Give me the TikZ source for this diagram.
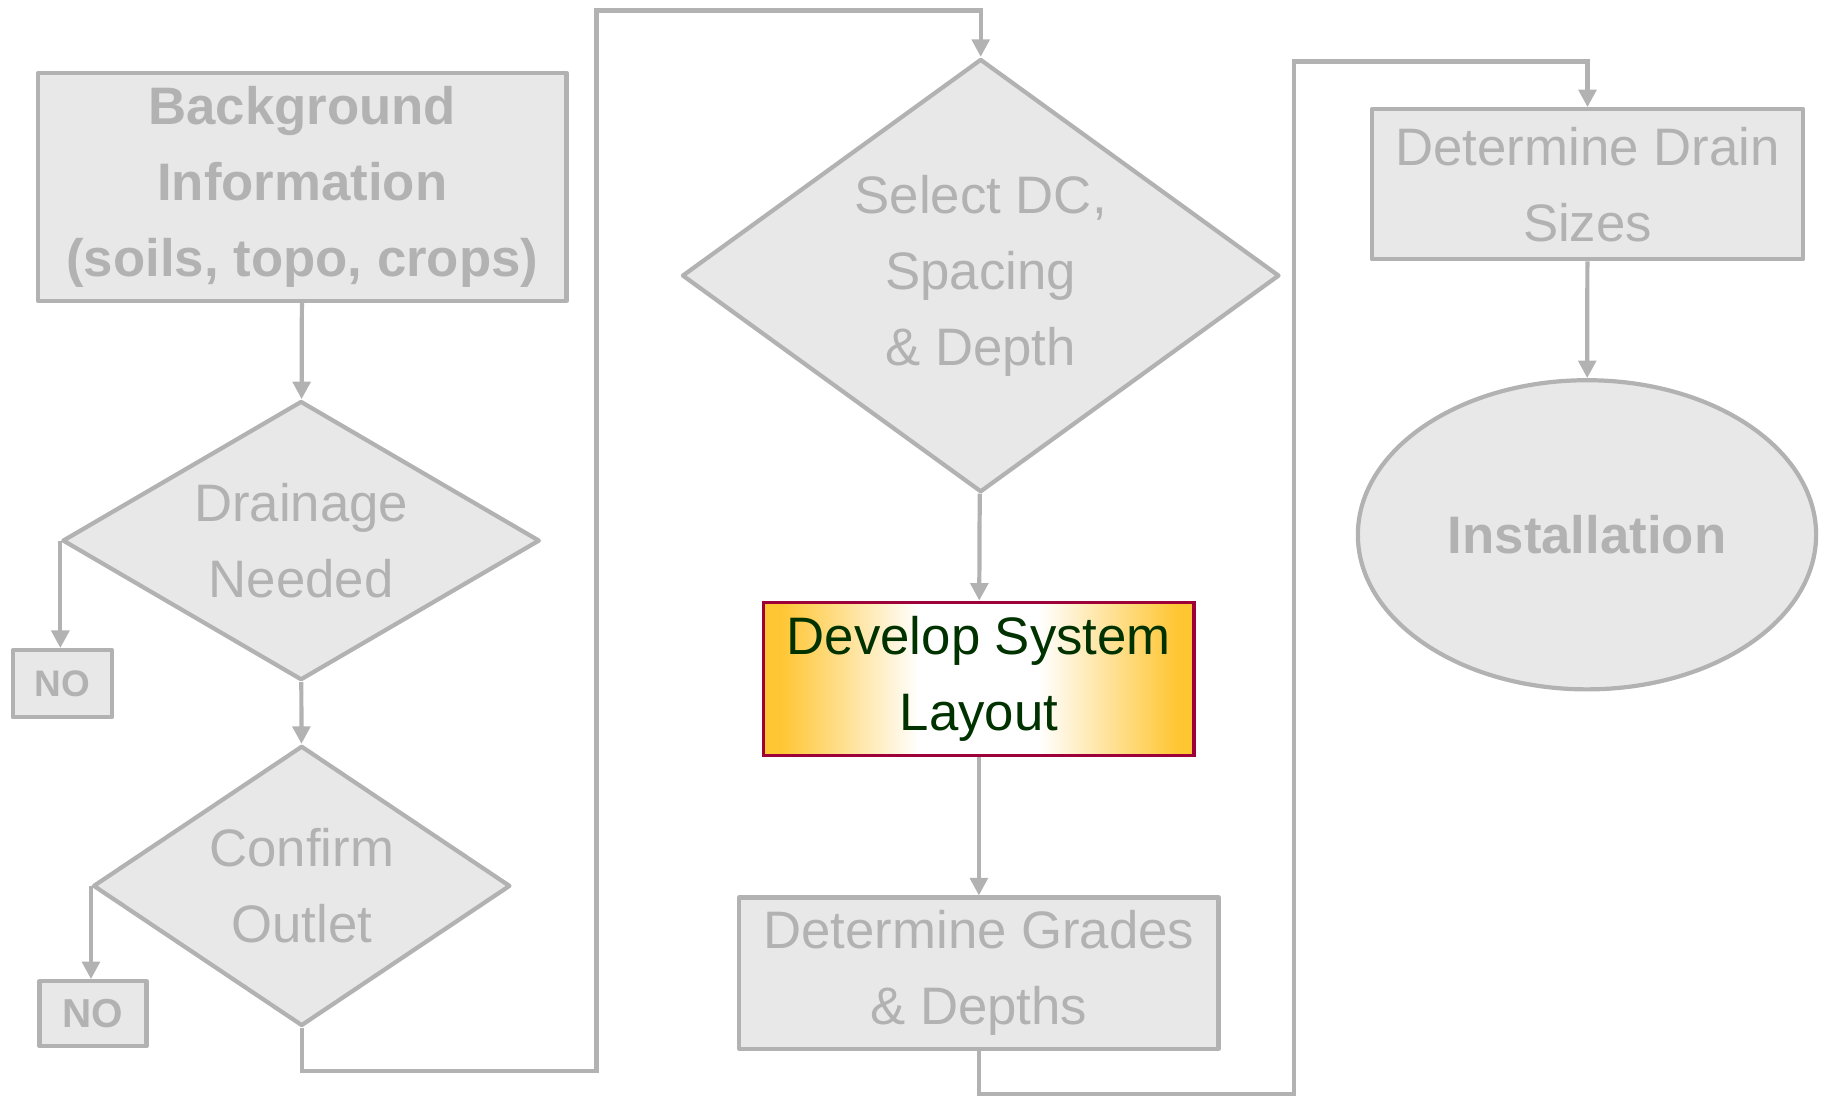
\documentclass[tikz,border=0pt]{standalone}
\usepackage{fontspec}
\setmainfont{Liberation Sans}
\usepackage{xcolor}
\usetikzlibrary{arrows.meta,shapes.geometric}

\definecolor{boxfill}{RGB}{232,232,232}
\definecolor{boxline}{RGB}{178,178,178}
\definecolor{gold}{RGB}{255,198,52}
\definecolor{maroon}{RGB}{158,0,58}
\definecolor{leaf}{RGB}{0,50,0}
\newcommand{\flowfont}{\fontsize{15pt}{21.6pt}\selectfont}
% tikz maps the node onto the middle half (25bp to 75bp)
\pgfdeclarehorizontalshading{goldband}{100bp}{color(0bp)=(gold); color(27bp)=(gold);
  color(43bp)=(white); color(57bp)=(white); color(73bp)=(gold); color(100bp)=(gold)}

\begin{document}
\begin{tikzpicture}[x=0.01cm,y=-0.01cm,>={Triangle[width=5pt,length=5pt]},
    grbox/.style={draw=boxline,fill=boxfill,line width=1.2pt,line join=round,
      text=boxline,font=\flowfont,align=center,inner sep=0pt},
    grdiam/.style={grbox,diamond},
    link/.style={draw=boxline,line width=1.2pt}]
    \useasboundingbox (0,0) rectangle (1823,1097);
    % first column
    \node[grbox,minimum width=5.28cm,minimum height=2.28cm,font=\flowfont\bfseries]
      (bg) at (302.3,187) {Background\\Information\\(soils, topo, crops)};
    \node[grdiam,aspect=1.71,minimum width=4.77cm,minimum height=2.79cm]
      (need) at (301.1,540.6) {Drainage\\Needed};
    \node[grdiam,aspect=1.49,minimum width=4.17cm,minimum height=2.80cm]
      (outlet) at (301.7,885.9) {Confirm\\Outlet};
    \node[grbox,minimum width=0.99cm,minimum height=0.67cm,
      font=\fontsize{10.5pt}{12pt}\selectfont\bfseries] (no1) at (62.2,683.7) {NO};
    \node[grbox,minimum width=1.07cm,minimum height=0.65cm,
      font=\fontsize{11.5pt}{13pt}\selectfont\bfseries] (no2) at (93,1013.8) {NO};
    % second column
    \node[grdiam,aspect=1.38,minimum width=5.97cm,minimum height=4.33cm]
      (select) at (980.7,275.6) {Select DC,\\Spacing\\\& Depth};
    \node[draw=maroon,line width=0.9pt,shading=goldband,
      text=leaf,font=\flowfont,align=center,inner sep=0pt,
      minimum width=4.30cm,minimum height=1.535cm]
      (layout) at (978.9,679) {Develop System\\Layout};
    \node[grbox,minimum width=4.79cm,minimum height=1.51cm]
      (grades) at (978.9,973.1) {Determine Grades\\\& Depths};
    % third column
    \node[grbox,minimum width=4.31cm,minimum height=1.50cm]
      (sizes) at (1587.5,184.3) {Determine Drain\\Sizes};
    \node[grbox,ellipse,minimum width=4.58cm,minimum height=3.09cm,font=\flowfont\bfseries]
      (install) at (1587,534.8) {Installation};
    % bends of the long connectors
    \coordinate (b1) at (596.4,1070.8);
    \coordinate (b2) at (596.4,10.5);
    \coordinate (b3) at (1294,1094);
    \coordinate (b4) at (1294,61.6);
    % connectors
    \draw[link,->] (bg) -- (need);
    \draw[link,->] (need.west) -- (need.west |- no1.north);
    \draw[link,->] (need) -- (outlet);
    \draw[link,->] (outlet.west) -- (outlet.west |- no2.north);
    \draw[link,->] (outlet.south) |- (b1) -- (b2) -| (select.north);
    \draw[link,->] (select) -- (layout);
    \draw[link,->] (layout) -- (grades);
    \draw[link,->] (grades.south) |- (b3) -- (b4) -| (sizes.north);
    \draw[link,->] (sizes) -- (install);
\end{tikzpicture}
\end{document}
